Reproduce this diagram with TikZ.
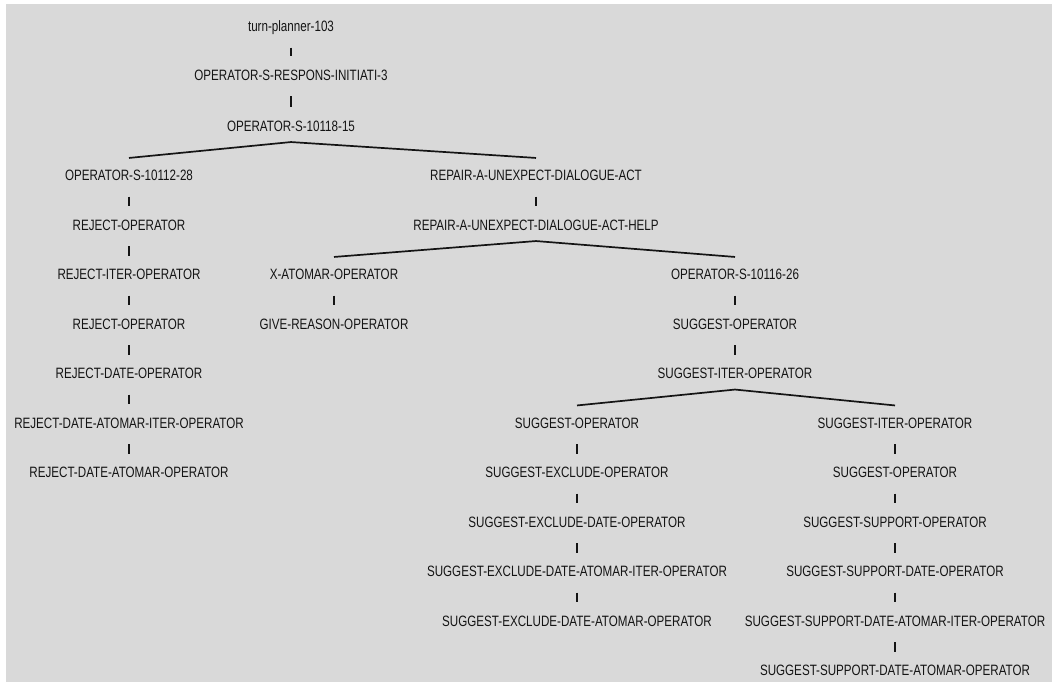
\documentclass[tikz,border=0pt]{standalone}
\usepackage{fontspec}
\newfontfamily\treefont{Liberation Sans}[FakeStretch=0.775]
\definecolor{bggray}{HTML}{D9D9D9}
\definecolor{ink}{HTML}{141414}
\begin{document}
\begin{tikzpicture}[x=1pt,y=-1pt,
  lbl/.style={inner sep=0pt, text height=10.7pt, text depth=0pt, text=ink,
    font=\treefont\fontsize{15}{17}\selectfont, anchor=center},
  bar/.style={draw=ink, line width=1.3pt, shorten <=15.5pt, shorten >=13pt},
  arcline/.style={draw=ink, line width=1.7pt, line join=round}]
\useasboundingbox (0,0) rectangle (1052,682);
\fill[white] (0,0) rectangle (1052,682);
\fill[bggray] (6,4) rectangle (1052,682);

% spine
\node[lbl] (n0) at (291,26.5) {turn-planner-103};
\node[lbl] (n1) at (291,75) {OPERATOR-S-RESPONS-INITIATI-3};
\node[lbl] (n2) at (291,126) {OPERATOR-S-10118-15};
% left branch
\node[lbl] (a1) at (129,175.5) {OPERATOR-S-10112-28};
\node[lbl] (a2) at (129,225) {REJECT-OPERATOR};
\node[lbl] (a3) at (129,274.5) {REJECT-ITER-OPERATOR};
\node[lbl] (a4) at (129,324) {REJECT-OPERATOR};
\node[lbl] (a5) at (129,373.5) {REJECT-DATE-OPERATOR};
\node[lbl] (a6) at (129,423) {REJECT-DATE-ATOMAR-ITER-OPERATOR};
\node[lbl] (a7) at (129,472.5) {REJECT-DATE-ATOMAR-OPERATOR};
% repair
\node[lbl] (b1) at (536,175.5) {REPAIR-A-UNEXPECT-DIALOGUE-ACT};
\node[lbl] (b2) at (536,225) {REPAIR-A-UNEXPECT-DIALOGUE-ACT-HELP};
\node[lbl] (c1) at (334,274.5) {X-ATOMAR-OPERATOR};
\node[lbl] (c2) at (334,324) {GIVE-REASON-OPERATOR};
\node[lbl] (d1) at (735,274.5) {OPERATOR-S-10116-26};
\node[lbl] (d2) at (735,324) {SUGGEST-OPERATOR};
\node[lbl] (d3) at (735,373.5) {SUGGEST-ITER-OPERATOR};
% suggest exclude
\node[lbl] (e1) at (577,423) {SUGGEST-OPERATOR};
\node[lbl] (e2) at (577,472.5) {SUGGEST-EXCLUDE-OPERATOR};
\node[lbl] (e3) at (577,522) {SUGGEST-EXCLUDE-DATE-OPERATOR};
\node[lbl] (e4) at (577,571.5) {SUGGEST-EXCLUDE-DATE-ATOMAR-ITER-OPERATOR};
\node[lbl] (e5) at (577,621) {SUGGEST-EXCLUDE-DATE-ATOMAR-OPERATOR};
% suggest support
\node[lbl] (f1) at (895,423) {SUGGEST-ITER-OPERATOR};
\node[lbl] (f2) at (895,472.5) {SUGGEST-OPERATOR};
\node[lbl] (f3) at (895,522) {SUGGEST-SUPPORT-OPERATOR};
\node[lbl] (f4) at (895,571.5) {SUGGEST-SUPPORT-DATE-OPERATOR};
\node[lbl] (f5) at (895,621) {SUGGEST-SUPPORT-DATE-ATOMAR-ITER-OPERATOR};
\node[lbl] (f6) at (895,670.5) {SUGGEST-SUPPORT-DATE-ATOMAR-OPERATOR};

% vertical connectors
\foreach \p/\c in {n0/n1,n1/n2,a1/a2,a2/a3,a3/a4,a4/a5,a5/a6,a6/a7,b1/b2,c1/c2,
                   d1/d2,d2/d3,e1/e2,e2/e3,e3/e4,e4/e5,f1/f2,f2/f3,f3/f4,f4/f5,f5/f6}
  \draw[bar] (\p.south) -- (\c.north);

% branching connectors
\draw[arcline] ([yshift=12pt]a1.north) -- ([yshift=-10.5pt]n2.south) -- ([yshift=12pt]b1.north);
\draw[arcline] ([yshift=12pt]c1.north) -- ([yshift=-10.5pt]b2.south) -- ([yshift=12pt]d1.north);
\draw[arcline] ([yshift=12pt]e1.north) -- ([yshift=-10.5pt]d3.south) -- ([yshift=12pt]f1.north);
\end{tikzpicture}
\end{document}
